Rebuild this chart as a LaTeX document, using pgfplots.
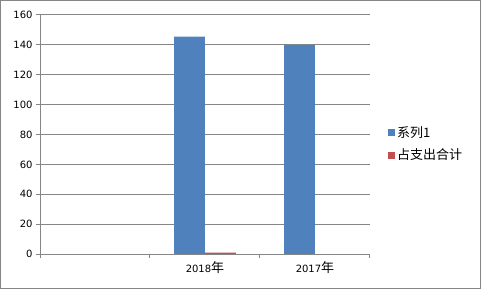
\documentclass[border=0pt]{standalone}
\usepackage{pgfplots}
\pgfplotsset{compat=1.18}
\usepackage{fontspec}
\setmainfont{DejaVu Sans}
\newfontfamily\cjk{Noto Sans CJK SC}
\definecolor{sblue}{HTML}{4F81BD}
\definecolor{sred}{HTML}{C0504D}
\definecolor{gridc}{HTML}{868686}
\newcommand{\num}{\fontsize{10bp}{12bp}\selectfont}
\newcommand{\cj}{\cjk\fontsize{13bp}{15bp}\selectfont}
\begin{document}
\begin{tikzpicture}
\useasboundingbox (0,0) rectangle (481bp,289bp);
\draw[gridc, line width=1bp] (0.5bp,0.5bp) rectangle (480.5bp,288.5bp);
\begin{axis}[
  at={(40bp,35bp)}, anchor=south west,
  scale only axis, width=330bp, height=239bp,
  xmin=-0.5, xmax=2.5, ymin=0, ymax=160,
  ytick={0,20,...,160},
  xtick={0,1,2},
  xticklabels={,{{\num 2018}{\cj 年}},{{\num 2017}{\cj 年}}},
  minor xtick={-0.5,0.5,1.5,2.5},
  major x tick style={draw=none},
  tick align=outside, major tick length=4bp, minor tick length=4bp,
  tick style={gridc, line width=1bp},
  axis x line*=bottom, axis y line*=left,
  axis line style={-, gridc, line width=1bp},
  ymajorgrids, grid style={gridc, line width=1bp},
  yticklabel style={font=\num, /pgf/number format/assume math mode=true},
  ybar=0pt, bar width=0.28,
  legend style={at={(1,0.46)}, xshift=18bp, anchor=west, draw=none, fill=none,
    inner sep=0pt, font=\cj, row sep=6bp},
  legend cell align=left,
]
\addplot[fill=sblue, draw=none, legend image code/.code={\fill[sblue] (0bp,-3.5bp) rectangle (7bp,3.5bp);}]
  coordinates {(0,0) (1,145.5) (2,140)};
\addlegendentry{系列1}
\addplot[fill=sred, draw=none, legend image code/.code={\fill[sred] (0bp,-3.5bp) rectangle (7bp,3.5bp);}]
  coordinates {(0,0) (1,1) (2,0)};
\addlegendentry{占支出合计}
\end{axis}
\end{tikzpicture}
\end{document}
